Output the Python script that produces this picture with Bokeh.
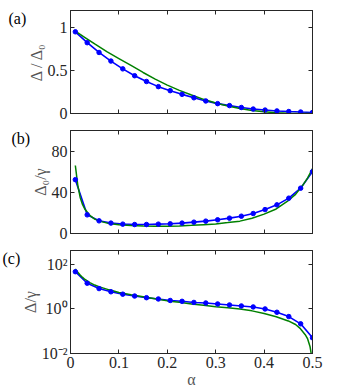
import math
from bokeh.plotting import figure
from bokeh.layouts import column
from bokeh.models import Range1d, FixedTicker, LinearAxis, LogAxis, Label, CustomJSTickFormatter
from bokeh.embed import file_html
from bokeh.resources import INLINE

# ---------------- data ----------------
alpha = [0.010, 0.0345, 0.059, 0.0835, 0.108, 0.1325, 0.157, 0.1815, 0.206, 0.2305, 0.255,
         0.2795, 0.304, 0.3285, 0.353, 0.3775, 0.402, 0.4265, 0.451, 0.4755, 0.500]

# (a) Delta / Delta0
blue_a = [0.952, 0.825, 0.711, 0.611, 0.520, 0.440, 0.373, 0.313, 0.266, 0.223, 0.183,
          0.146, 0.115, 0.092, 0.070, 0.052, 0.040, 0.030, 0.023, 0.017, 0.012]
alpha_ga = [0.01, 0.03, 0.05, 0.075, 0.1, 0.125, 0.15, 0.175, 0.2, 0.225, 0.25,
            0.275, 0.3, 0.325, 0.35, 0.375, 0.4, 0.425, 0.45, 0.475, 0.5]
green_a = [0.960, 0.885, 0.810, 0.720, 0.640, 0.560, 0.478, 0.400, 0.330, 0.270, 0.215,
           0.165, 0.122, 0.087, 0.058, 0.036, 0.020, 0.009, 0.003, 0.001, 0.0]

# (b) Delta0 / gamma
blue_b = [52.3, 18.1, 12.3, 10.1, 9.1, 8.7, 8.7, 9.1, 9.4, 10.1, 11.0,
          12.0, 13.3, 14.9, 16.8, 19.4, 23.2, 27.8, 34.3, 44.0, 60.0]
alpha_gb = [0.01, 0.015, 0.02, 0.025, 0.03, 0.04, 0.05, 0.06, 0.08, 0.1, 0.125, 0.15, 0.175,
            0.2, 0.225, 0.25, 0.275, 0.3, 0.325, 0.35, 0.375, 0.4, 0.425, 0.45, 0.465, 0.48,
            0.49, 0.5]
green_b = [66, 47, 35, 28, 23.5, 17.5, 14, 12, 9.6, 8.4, 7.7, 7.3, 7.1,
           7.1, 7.4, 7.9, 8.6, 9.3, 10.6, 12, 14.8, 18.8, 23.8, 32, 38, 47,
           54, 63]

# (c) Delta / gamma
blue_c = [47, 14.3, 8.2, 5.9, 4.6, 3.8, 3.2, 2.8, 2.4, 2.2, 1.96,
          1.85, 1.67, 1.51, 1.36, 1.23, 1.0, 0.71, 0.455, 0.215, 0.051]
alpha_gc = [0.01, 0.015, 0.02, 0.025, 0.03, 0.04, 0.05, 0.06, 0.08, 0.1, 0.125, 0.15, 0.175,
            0.2, 0.225, 0.25, 0.275, 0.3, 0.325, 0.35, 0.375, 0.4, 0.425, 0.45, 0.465, 0.475,
            0.485, 0.49, 0.495, 0.498, 0.5]
green_c = [63, 44, 33, 26, 21, 15.2, 11.8, 9.8, 7.2, 5.5, 4.3, 3.5, 2.85,
           2.3, 1.98, 1.68, 1.45, 1.25, 1.12, 1.0, 0.82, 0.62, 0.45, 0.29, 0.2, 0.13,
           0.07, 0.045, 0.02, 0.008, 0.001]

x_ticks = [0, 0.1, 0.2, 0.3, 0.4, 0.5]
ticks_a = [0, 0.5, 1]
ticks_b = [0, 40, 80]
ticks_c = [0.01, 1, 100]
tick_labels_c = ["10\u207b\u00b2", "10\u2070", "10\u00b2"]

# ---------------- styling ----------------
AX = "#262626"
LAB = "#555555"
FONT = "Liberation Serif"
BLUE = "#0000ff"
GREEN = "#008000"
LEFT = 48
FH = 103

num_fmt = CustomJSTickFormatter(code="return String(Math.round(tick*1000)/1000);")
log_fmt = CustomJSTickFormatter(
    args=dict(vals=ticks_c, labs=tick_labels_c),
    code="for (let i=0;i<vals.length;i++){ if (Math.abs(Math.log10(tick)-Math.log10(vals[i]))<1e-6) return labs[i]; } return '';")


def style_axis(ax, ticks, show, fmt=None, label=None):
    ax.axis_line_color = AX
    ax.major_tick_in = 4
    ax.major_tick_out = 0
    ax.minor_tick_in = 4
    ax.minor_tick_out = 0
    ax.major_tick_line_color = AX
    ax.major_label_text_font = FONT
    ax.major_label_text_color = AX
    if show:
        ax.ticker = FixedTicker(ticks=ticks)
        ax.minor_tick_line_color = None
        ax.major_label_text_font_size = "16px"
        ax.major_label_standoff = 3
        if fmt is not None:
            ax.formatter = fmt
    else:
        # tick marks only (drawn as minor ticks), no labels
        ax.ticker = FixedTicker(ticks=[], minor_ticks=ticks)
        ax.minor_tick_line_color = AX
        ax.major_label_standoff = 0
    if label is not None:
        ax.axis_label = label
        ax.axis_label_text_font = FONT
        ax.axis_label_text_font_size = "16px"
        ax.axis_label_text_font_style = "normal"
        ax.axis_label_text_color = LAB
        ax.axis_label_standoff = 0


def make_fig(h, top_b, bottom_b, yr, ytype, yticks, yfmt, ylabel, panel, show_x, xlabel=None):
    p = figure(width=340, height=h, x_range=Range1d(0, 0.5), y_range=yr, y_axis_type=ytype,
               output_backend="svg", toolbar_location=None,
               min_border_left=LEFT, min_border_right=28, min_border_top=top_b,
               min_border_bottom=bottom_b)
    p.grid.visible = False
    p.outline_line_color = AX
    p.background_fill_color = "white"
    p.border_fill_color = "white"
    style_axis(p.xaxis[0], x_ticks, show_x, num_fmt, xlabel)
    style_axis(p.yaxis[0], yticks, True, yfmt, ylabel)
    top = LinearAxis()
    style_axis(top, x_ticks, False)
    p.add_layout(top, "above")
    right = LogAxis() if ytype == "log" else LinearAxis()
    style_axis(right, yticks, False)
    p.add_layout(right, "right")
    p.add_layout(Label(x=2, y=FH + 1, x_units="screen", y_units="screen", text=panel,
                       text_font=FONT, text_font_size="16px", text_color="black",
                       text_align="left", text_baseline="top"), "left")
    return p


def draw(p, xb, yb, xg, yg):
    p.line(xb, yb, line_color=BLUE, line_width=1.6)
    p.line(xg, yg, line_color=GREEN, line_width=1.5)
    p.scatter(xb, yb, size=4.5, color=BLUE)


p1 = make_fig(121, 10, 8, Range1d(0, 1.2), "linear", ticks_a, num_fmt,
              "\u0394 / \u0394\u2080", "(a)", False)
draw(p1, alpha, blue_a, alpha_ga, green_a)

p2 = make_fig(120, 9, 8, Range1d(0, 100), "linear", ticks_b, num_fmt,
              "\u0394\u2080/\u03b3", "(b)", False)
draw(p2, alpha, blue_b, alpha_gb, green_b)

p3 = make_fig(149, 9, 37, Range1d(0.01, 420), "log", ticks_c, log_fmt,
              "\u0394/\u03b3", "(c)", True, "\u03b1")
p3.xaxis[0].axis_label_text_font_style = "italic"
draw(p3, alpha, blue_c, alpha_gc, green_c)

layout = column(p1, p2, p3)
open("out.html", "w").write(file_html(layout, INLINE))
